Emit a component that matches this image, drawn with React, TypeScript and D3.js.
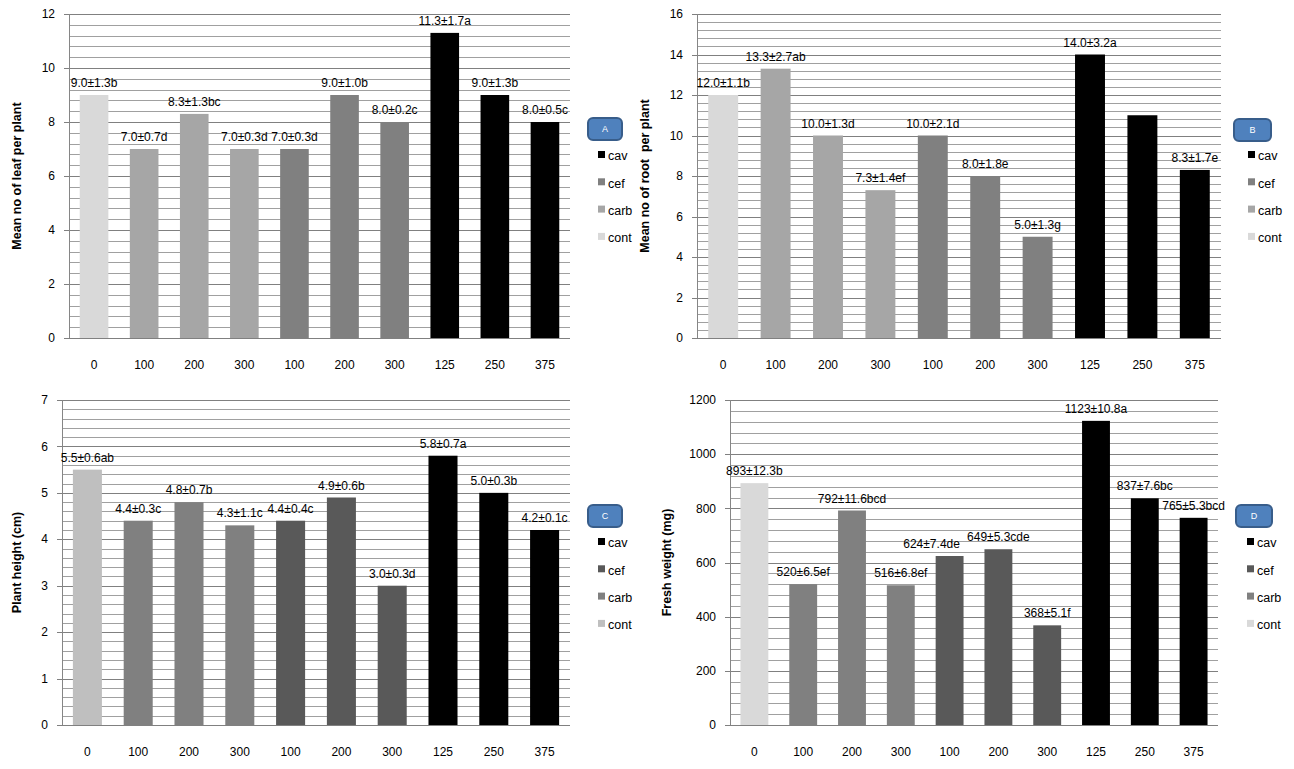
import React from "react";
import * as d3 from "d3";

const categories = ["0", "100", "200", "300", "100", "200", "300", "125", "250", "375"];
const groups = ["cont", "carb", "carb", "carb", "cef", "cef", "cef", "cav", "cav", "cav"];
const legendOrder = ["cav", "cef", "carb", "cont"];

const leafValues = [9.0, 7.0, 8.3, 7.0, 7.0, 9.0, 8.0, 11.3, 9.0, 8.0];
const leafLabels = ["9.0±1.3b", "7.0±0.7d", "8.3±1.3bc", "7.0±0.3d", "7.0±0.3d", "9.0±1.0b", "8.0±0.2c", "11.3±1.7a", "9.0±1.3b", "8.0±0.5c"];

const rootValues = [12.0, 13.3, 10.0, 7.3, 10.0, 8.0, 5.0, 14.0, 11.0, 8.3];
const rootLabels = ["12.0±1.1b", "13.3±2.7ab", "10.0±1.3d", "7.3±1.4ef", "10.0±2.1d", "8.0±1.8e", "5.0±1.3g", "14.0±3.2a", "", "8.3±1.7e"];

const heightValues = [5.5, 4.4, 4.8, 4.3, 4.4, 4.9, 3.0, 5.8, 5.0, 4.2];
const heightLabels = ["5.5±0.6ab", "4.4±0.3c", "4.8±0.7b", "4.3±1.1c", "4.4±0.4c", "4.9±0.6b", "3.0±0.3d", "5.8±0.7a", "5.0±0.3b", "4.2±0.1c"];

const weightValues = [893, 520, 792, 516, 624, 649, 368, 1123, 837, 765];
const weightLabels = ["893±12.3b", "520±6.5ef", "792±11.6bcd", "516±6.8ef", "624±7.4de", "649±5.3cde", "368±5.1f", "1123±10.8a", "837±7.6bc", "765±5.3bcd"];

const paletteAB: Record<string, string> = { cont: "#d9d9d9", carb: "#a6a6a6", cef: "#808080", cav: "#000000" };
const paletteC: Record<string, string> = { cont: "#bfbfbf", carb: "#808080", cef: "#595959", cav: "#000000" };
const paletteD: Record<string, string> = { cont: "#d9d9d9", carb: "#808080", cef: "#595959", cav: "#000000" };

const FONT = "'Liberation Sans', Arial, sans-serif";

type PanelProps = {
  x0: number; x1: number; yTop: number; yBot: number;
  max: number; step: number;
  values: number[]; labels: string[];
  palette: Record<string, string>;
  title: string; titleX: number;
  badge: string; bx: number; by: number; bw: number; bh: number;
  lx: number; ly: number;
  labelNudge?: Record<number, number>;
};

function Panel(p: PanelProps) {
  const x = d3.scaleBand<number>()
    .domain(d3.range(categories.length))
    .range([p.x0, p.x1])
    .paddingInner(0.75 / 1.75)
    .paddingOuter(0.75 / 3.5);
  const y = d3.scaleLinear().domain([0, p.max]).range([p.yBot, p.yTop]);
  const majors = d3.range(0, p.max + p.step / 2, p.step);
  const minorStep = p.step / 5;
  const minors = d3.range(0, Math.round(p.max / minorStep) + 1)
    .map((i) => i * minorStep)
    .filter((_, i) => i % 5 !== 0);
  const step = (p.x1 - p.x0) / categories.length;
  const midY = (p.yTop + p.yBot) / 2;
  const nudge = p.labelNudge || {};
  return (
    <g fontFamily={FONT}>
      {minors.map((v, i) => (
        <line key={"mi" + i} x1={p.x0} x2={p.x1} y1={Math.round(y(v)) + 0.5} y2={Math.round(y(v)) + 0.5} stroke="#a0a0a0" strokeWidth={1} />
      ))}
      {majors.map((v, i) => (
        <line key={"ma" + i} x1={p.x0 - 5} x2={p.x1} y1={Math.round(y(v)) + 0.5} y2={Math.round(y(v)) + 0.5} stroke="#808080" strokeWidth={1} />
      ))}
      <line x1={p.x0 + 0.5} x2={p.x0 + 0.5} y1={p.yTop} y2={p.yBot} stroke="#868686" />
      {majors.map((v, i) => (
        <text key={"yt" + i} x={p.x0 - 14} y={y(v)} dy="0.35em" textAnchor="end" fontSize={12} fill="#000">
          {String(v)}
        </text>
      ))}
      {p.values.map((v, i) => (
        <rect key={"b" + i} x={x(i)} y={y(v)} width={x.bandwidth()} height={p.yBot - y(v)} fill={p.palette[groups[i]]} />
      ))}
      {p.values.map((v, i) => (
        <text key={"l" + i} x={(x(i) as number) + x.bandwidth() / 2 + (nudge[i] || 0)} y={y(v) - 8} textAnchor="middle" fontSize={12} fill="#000">
          {p.labels[i]}
        </text>
      ))}
      {categories.map((c, i) => (
        <text key={"xt" + i} x={p.x0 + step * (i + 0.5)} y={p.yBot + 27} dy="0.35em" textAnchor="middle" fontSize={12} fill="#000">
          {c}
        </text>
      ))}
      <text transform={`translate(${p.titleX},${midY}) rotate(-90)`} textAnchor="middle" dy="0.35em" fontSize={12.5} fontWeight="bold" fill="#000" style={{ whiteSpace: "pre" }}>
        {p.title}
      </text>
      <rect x={p.bx} y={p.by} width={p.bw} height={p.bh} rx={5} fill="#4f81bd" stroke="#385d8a" strokeWidth={2} />
      <text x={p.bx + p.bw / 2} y={p.by + p.bh / 2} dy="0.35em" textAnchor="middle" fontSize={9} fill="#ffffff">{p.badge}</text>
      {legendOrder.map((g, i) => (
        <g key={"lg" + g} transform={`translate(${p.lx},${p.ly + i * 27.3})`}>
          <rect x={0} y={-5} width={7} height={7} fill={p.palette[g]} />
          <text x={10} y={0} dy="0.35em" fontSize={12.5} fill="#000">{g}</text>
        </g>
      ))}
    </g>
  );
}

export default function App() {
  return (
    <svg width={1294} height={769} style={{ position: "absolute", left: 0, top: 0, background: "#fff" }}>
      <rect width={1294} height={769} fill="#fff" />
      <Panel x0={69} x1={570} yTop={14} yBot={338} max={12} step={2}
        values={leafValues} labels={leafLabels} palette={paletteAB}
        title="Mean no of leaf per plant" titleX={17}
        badge="A" bx={588} by={118} bw={34} bh={22} lx={598} ly={156} />
      <Panel x0={697} x1={1221} yTop={14} yBot={338} max={16} step={2}
        values={rootValues} labels={rootLabels} palette={paletteAB}
        title="Mean no of root  per plant" titleX={645}
        badge="B" bx={1234} by={119} bw={37} bh={22} lx={1248} ly={156} />
      <Panel x0={62} x1={570} yTop={400} yBot={725} max={7} step={1}
        values={heightValues} labels={heightLabels} palette={paletteC}
        title="Plant height (cm)" titleX={17}
        badge="C" bx={588} by={505} bw={34} bh={22} lx={598} ly={543} />
      <Panel x0={730} x1={1218} yTop={400} yBot={725} max={1200} step={200}
        values={weightValues} labels={weightLabels} palette={paletteD}
        title="Fresh weight (mg)" titleX={667}
        badge="D" bx={1236} by={505} bw={36} bh={22} lx={1247} ly={543}
        labelNudge={{ 4: -18 }} />
    </svg>
  );
}
